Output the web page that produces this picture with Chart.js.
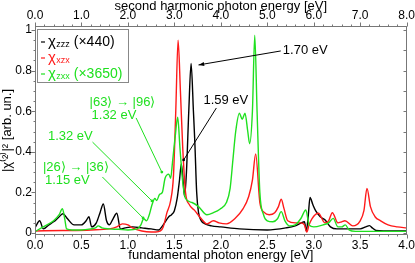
<!DOCTYPE html>
<html>
<head>
<meta charset="utf-8">
<script src="https://cdn.jsdelivr.net/npm/chart.js@4.4.0/dist/chart.umd.min.js"></script>
<style>
html, body { margin: 0; padding: 0; background: #fff; }
</style>
</head>
<body>
<canvas id="chart" width="415" height="263"></canvas>
<script>
// Data
const zzzE = [0, 0.05, 0.09, 0.15, 0.2, 0.25, 0.3, 0.35, 0.42, 0.5, 0.55, 0.58, 0.61, 0.66, 0.7, 0.735, 0.77, 0.8, 0.84, 0.88, 0.92, 0.97, 1.05, 1.15, 1.25, 1.33, 1.38, 1.44, 1.47, 1.5, 1.53, 1.555, 1.575, 1.595, 1.61, 1.63, 1.655, 1.68, 1.705, 1.72, 1.74, 1.76, 1.79, 1.83, 1.9, 2.0, 2.2, 2.5, 2.7, 2.8, 2.86, 2.9, 2.92, 2.94, 2.96, 2.99, 3.02, 3.07, 3.12, 3.18, 3.25, 3.35, 3.5, 3.56, 3.6, 3.63, 3.67, 3.75, 4.0];
const zzzV = [0.025, 0.06, 0.02, 0.04, 0.055, 0.075, 0.095, 0.07, 0.04, 0.04, 0.06, 0.08, 0.03, 0.05, 0.1, 0.143, 0.06, 0.04, 0.07, 0.097, 0.02, 0.025, 0.03, 0.025, 0.02, 0.015, 0.04, 0.08, 0.09, 0.11, 0.17, 0.26, 0.34, 0.25, 0.18, 0.3, 0.6, 0.835, 0.6, 0.45, 0.2, 0.1, 0.06, 0.045, 0.035, 0.03, 0.02, 0.015, 0.025, 0.035, 0.048, 0.055, 0.01, 0.08, 0.175, 0.14, 0.11, 0.08, 0.065, 0.03, 0.02, 0.02, 0.02, 0.03, 0.036, 0.025, 0.012, 0.01, 0.01];

const xzxE = [0, 0.3, 0.6, 0.8, 0.88, 0.94, 1.0, 1.05, 1.15, 1.25, 1.3, 1.35, 1.38, 1.42, 1.46, 1.49, 1.515, 1.54, 1.565, 1.59, 1.62, 1.66, 1.72, 1.79, 1.85, 1.92, 1.98, 2.06, 2.15, 2.24, 2.3, 2.34, 2.375, 2.42, 2.47, 2.52, 2.58, 2.62, 2.65, 2.68, 2.72, 2.8, 2.86, 2.9, 2.925, 2.95, 2.98, 3.05, 3.12, 3.16, 3.2, 3.26, 3.3, 3.335, 3.42, 3.5, 3.54, 3.573, 3.61, 3.66, 3.72, 3.8, 3.9, 4.0];
const xzxV = [0.01, 0.012, 0.015, 0.02, 0.03, 0.045, 0.04, 0.025, 0.01, 0.005, 0.005, 0.01, 0.03, 0.1, 0.16, 0.28, 0.6, 0.95, 0.7, 0.42, 0.2, 0.14, 0.11, 0.07, 0.045, 0.06, 0.05, 0.045, 0.07, 0.12, 0.18, 0.26, 0.39, 0.15, 0.1, 0.09, 0.1, 0.13, 0.166, 0.12, 0.06, 0.05, 0.05, 0.04, 0.005, 0.04, 0.07, 0.097, 0.05, 0.06, 0.1, 0.05, 0.055, 0.06, 0.035, 0.06, 0.11, 0.22, 0.13, 0.08, 0.06, 0.04, 0.03, 0.025];

const zxxE = [0, 0.09, 0.2, 0.26, 0.295, 0.32, 0.34, 0.4, 0.5, 0.6, 0.65, 0.68, 0.72, 0.8, 0.9, 1.0, 1.1, 1.14, 1.17, 1.2, 1.23, 1.26, 1.29, 1.31, 1.34, 1.37, 1.4, 1.44, 1.46, 1.48, 1.51, 1.536, 1.56, 1.59, 1.62, 1.69, 1.76, 1.85, 1.92, 1.99, 2.06, 2.1, 2.13, 2.16, 2.2, 2.23, 2.26, 2.29, 2.31, 2.34, 2.365, 2.39, 2.42, 2.46, 2.5, 2.56, 2.61, 2.65, 2.69, 2.74, 2.8, 2.86, 2.915, 2.95, 3.0, 3.1, 3.16, 3.21, 3.26, 3.3, 3.34, 3.38, 3.45, 3.6, 4.0];
const zxxV = [0.007, 0.03, 0.06, 0.09, 0.12, 0.07, 0.02, 0.015, 0.015, 0.02, 0.025, 0.035, 0.025, 0.02, 0.018, 0.015, 0.02, 0.04, 0.07, 0.06, 0.09, 0.14, 0.17, 0.16, 0.19, 0.2, 0.27, 0.29, 0.27, 0.35, 0.48, 0.57, 0.42, 0.25, 0.17, 0.15, 0.13, 0.09, 0.1, 0.117, 0.15, 0.22, 0.36, 0.5, 0.59, 0.56, 0.59, 0.5, 0.44, 0.6, 0.975, 0.6, 0.2, 0.09, 0.06, 0.055, 0.07, 0.105, 0.06, 0.035, 0.04, 0.07, 0.113, 0.04, 0.03, 0.04, 0.05, 0.072, 0.03, 0.03, 0.04, 0.015, 0.008, 0.008, 0.008];

const bottomTicks = ['0.0', '0.5', '1.0', '1.5', '2.0', '2.5', '3.0', '3.5', '4.0'];
const topTicks = ['0.0', '1.0', '2.0', '3.0', '4.0', '5.0', '6.0', '7.0', '8.0'];
const yTicks = ['0', '0.2', '0.4', '0.6', '0.8', '1'];

const GREEN = '#1fe01f';
const RED = '#ff1a1a';
const AXIS = '#777';
const FONT = '"Liberation Sans", Arial, sans-serif';

// Annotations (data coordinates)
const notes = [
    { lines: ['1.70 eV'], color: '#000', x: 2.667, y: 0.901, from: [2.645, 0.897], to: [1.76, 0.828], arrow: true },
    { lines: ['1.59 eV'], color: '#000', x: 1.813, y: 0.655, from: [1.952, 0.616], to: [1.6, 0.36] },
    { lines: ['|63\u27E9 \u2192 |96\u27E9', '1.32 eV'], color: GREEN, x: 0.587, y: 0.645, from: [1.088, 0.567], to: [1.365, 0.30] },
    { lines: ['1.32 eV'], color: GREEN, x: 0.139, y: 0.478, from: [0.619, 0.448], to: [1.259, 0.158] },
    { lines: ['|26\u27E9 \u2192 |36\u27E9', '1.15 eV'], color: GREEN, x: 0.085, y: 0.325, from: [0.725, 0.276], to: [1.163, 0.074] }
];

const legendRows = [
    { sym: '\u03C7', sub: 'zzz', tail: ' (\u00D7440)', color: '#000' },
    { sym: '\u03C7', sub: 'xzx', tail: '', color: RED },
    { sym: '\u03C7', sub: 'zxx', tail: ' (\u00D73650)', color: GREEN }
];

const pts = (e, v) => e.map((x, i) => ({ x: x, y: v[i] }));

const decor = {
    id: 'decor',
    afterDraw(chart) {
        const { ctx, chartArea: a, scales } = chart;
        const sx = scales.x, sx2 = scales.x2, sy = scales.y;
        ctx.save();
        ctx.strokeStyle = AXIS;
        ctx.lineWidth = 1;
        const L = Math.round(a.left) + 0.5, R = Math.round(a.right) - 0.5;
        const T = Math.round(a.top) + 0.5, B = Math.round(a.bottom) - 0.5;
        ctx.strokeRect(L, T, R - L, B - T);

        ctx.beginPath();
        // bottom ticks
        for (let i = 0; i <= 40; i++) {
            const px = Math.round(sx.getPixelForValue(i * 0.1)) + 0.5;
            const len = i % 5 === 0 ? 4 : 2;
            ctx.moveTo(px, B); ctx.lineTo(px, B + len);
        }
        // top ticks
        for (let i = 0; i <= 40; i++) {
            const px = Math.round(sx2.getPixelForValue(i * 0.2)) + 0.5;
            const len = i % 5 === 0 ? 4 : 2;
            ctx.moveTo(px, T); ctx.lineTo(px, T - len);
        }
        // left / right ticks
        for (let i = 0; i <= 20; i++) {
            const py = Math.round(sy.getPixelForValue(i * 0.05)) + 0.5;
            const len = i % 4 === 0 ? 4 : 2;
            ctx.moveTo(L, py); ctx.lineTo(L - len, py);
            if (i % 2 === 0) { ctx.moveTo(R, py); ctx.lineTo(R - 3, py); }
        }
        ctx.stroke();

        // legend
        ctx.fillStyle = '#fff';
        ctx.fillRect(37.5, 29.5, 91, 53);
        ctx.strokeStyle = '#888';
        ctx.strokeRect(37.5, 29.5, 91, 53);
        ctx.textBaseline = 'middle';
        ctx.textAlign = 'left';
        legendRows.forEach((r, i) => {
            const yy = 42 + i * 16;
            ctx.strokeStyle = r.color;
            ctx.lineWidth = 1.2;
            ctx.beginPath(); ctx.moveTo(41, yy); ctx.lineTo(45, yy); ctx.stroke();
            ctx.fillStyle = r.color;
            let xx = 48;
            ctx.font = '15px ' + FONT;
            ctx.fillText(r.sym, xx, yy);
            xx += ctx.measureText(r.sym).width + 0.5;
            ctx.font = '9px ' + FONT;
            ctx.fillText(r.sub, xx, yy + 3);
            xx += ctx.measureText(r.sub).width;
            ctx.font = '14px ' + FONT;
            ctx.fillText(r.tail, xx, yy);
        });

        // annotations
        notes.forEach(n => {
            ctx.fillStyle = n.color;
            ctx.strokeStyle = n.color;
            ctx.font = '13px ' + FONT;
            const tx = sx.getPixelForValue(n.x), ty = sy.getPixelForValue(n.y);
            n.lines.forEach((s, k) => ctx.fillText(s, tx + (k ? 2 : 0), ty + k * 13));
            const x1 = sx.getPixelForValue(n.from[0]), y1 = sy.getPixelForValue(n.from[1]);
            const x2 = sx.getPixelForValue(n.to[0]), y2 = sy.getPixelForValue(n.to[1]);
            ctx.lineWidth = 1;
            ctx.beginPath(); ctx.moveTo(x1, y1); ctx.lineTo(x2, y2); ctx.stroke();
            if (n.arrow) {
                const ang = Math.atan2(y2 - y1, x2 - x1);
                ctx.beginPath();
                ctx.moveTo(x2, y2);
                ctx.lineTo(x2 - 6 * Math.cos(ang - 0.35), y2 - 6 * Math.sin(ang - 0.35));
                ctx.lineTo(x2 - 6 * Math.cos(ang + 0.35), y2 - 6 * Math.sin(ang + 0.35));
                ctx.closePath(); ctx.fill();
            } else {
                ctx.beginPath(); ctx.arc(x2, y2, 1.4, 0, Math.PI * 2); ctx.fill();
            }
        });
        ctx.restore();
    }
};

const line = (data, color) => ({
    data: data,
    borderColor: color,
    borderWidth: 1.4,
    pointRadius: 0,
    cubicInterpolationMode: 'monotone',
    fill: false
});

new Chart(document.getElementById('chart'), {
    type: 'line',
    data: {
        datasets: [
            line(pts(zxxE, zxxV), GREEN),
            line(pts(xzxE, xzxV), RED),
            line(pts(zzzE, zzzV), '#000')
        ]
    },
    options: {
        responsive: false,
        animation: false,
        events: [],
        layout: { padding: { right: 5 } },
        plugins: { legend: { display: false }, tooltip: { enabled: false } },
        scales: {
            x: {
                type: 'linear', position: 'bottom', min: 0, max: 4,
                grid: { display: false, drawTicks: true, tickLength: 3 },
                border: { display: false },
                afterBuildTicks: s => { s.ticks = bottomTicks.map(t => ({ value: parseFloat(t) })); },
                ticks: { padding: 0, color: '#000', font: { family: FONT, size: 12 }, maxRotation: 0,
                    callback: (v, i) => bottomTicks[i] },
                title: { display: true, text: 'fundamental photon energy [eV]', color: '#000',
                    font: { family: FONT, size: 13, lineHeight: 1 }, padding: { top: 0, bottom: 1 } },
                afterFit: s => { s.height = 28; }
            },
            x2: {
                type: 'linear', position: 'top', min: 0, max: 8,
                grid: { display: false, drawTicks: true, tickLength: 3 },
                border: { display: false },
                afterBuildTicks: s => { s.ticks = topTicks.map(t => ({ value: parseFloat(t) })); },
                ticks: { padding: 0, color: '#000', font: { family: FONT, size: 12 }, maxRotation: 0,
                    callback: (v, i) => topTicks[i] },
                title: { display: true, text: 'second harmonic photon energy [eV]', color: '#000',
                    font: { family: FONT, size: 13, lineHeight: 1 }, padding: { top: 0, bottom: 0 } },
                afterFit: s => { s.height = 26; }
            },
            y: {
                type: 'linear', position: 'left', min: -0.01, max: 1.02,
                grid: { display: false, drawTicks: true, tickLength: 3 },
                border: { display: false },
                afterBuildTicks: s => { s.ticks = yTicks.map(t => ({ value: parseFloat(t) })); },
                ticks: { padding: 0, color: '#000', font: { family: FONT, size: 12 },
                    callback: (v, i) => yTicks[i] },
                title: { display: true, text: '|\u03C7\u207D\u00B2\u207E|\u00B2 [arb. un.]', color: '#000',
                    font: { family: FONT, size: 13, lineHeight: 1 }, padding: { top: 1, bottom: 0 } },
                afterFit: s => { s.width = 35; }
            }
        }
    },
    plugins: [decor]
});
</script>
</body>
</html>
